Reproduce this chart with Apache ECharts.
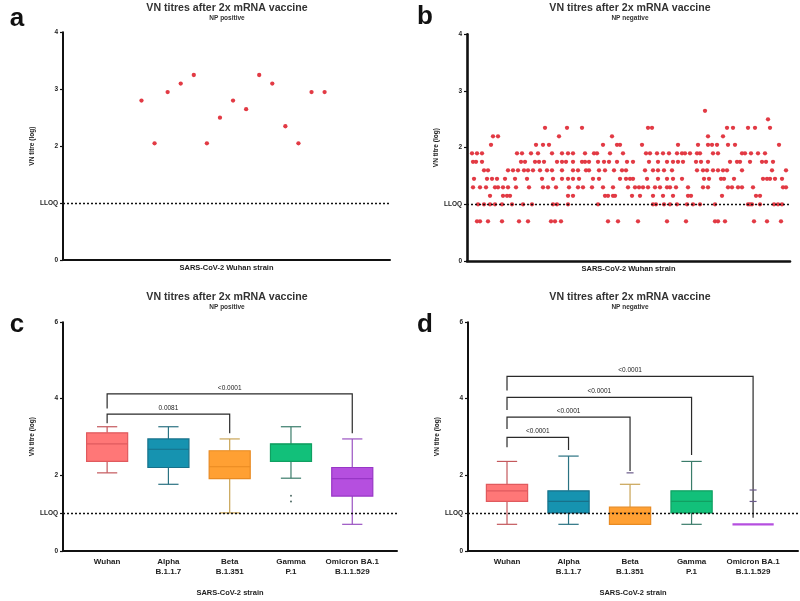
<!DOCTYPE html>
<html><head><meta charset="utf-8">
<script src="https://cdn.jsdelivr.net/npm/echarts@6/dist/echarts.min.js"></script>
<style>html,body{margin:0;padding:0;background:#fff}#c{width:800px;height:601px}</style>
</head><body><div id="c"></div>
<script>
// ---------- DATA ----------
// Panel a: NP positive, Wuhan strain, one value per sample (log VN titre)
const aValues = [2.80, 2.05, 2.95, 3.10, 3.25, 2.05, 2.50, 2.80, 2.65, 3.25, 3.10, 2.35, 2.05, 2.95, 2.95];

// Panel b: NP negative, Wuhan strain; titre levels and sample positions at each level
const bLevels = [2.65, 2.5, 2.35, 2.2, 2.05, 1.9, 1.75, 1.6, 1.45, 1.3, 1.15, 1.0, 0.7];
const bPositions = [
  [238],
  [301],
  [78,100,115,181,185,260,266,281,288,303],
  [26,31,92,145,241,256],
  [24,69,76,82,136,150,153,175,211,231,241,245,250,261,268,312],
  [5,10,15,50,55,64,71,85,95,101,106,118,127,130,143,156,179,183,190,196,202,210,215,218,223,230,233,246,251,275,278,284,291,298],
  [6,9,15,54,58,68,72,77,90,95,99,106,115,118,122,131,137,142,150,160,166,182,191,200,206,211,216,229,234,241,263,270,273,283,295,299,306],
  [17,21,41,46,51,57,61,66,73,80,85,95,106,111,119,122,132,138,147,155,159,178,186,191,197,205,230,236,240,246,251,256,260,275,305,319],
  [7,20,25,30,38,48,60,75,86,95,101,106,112,126,132,153,159,163,166,180,191,200,206,215,237,242,254,257,267,296,300,303,308,315],
  [6,13,19,28,31,36,41,49,62,76,81,89,102,111,116,125,136,146,161,168,172,176,181,188,193,200,203,209,221,236,241,261,265,271,275,286,316,319],
  [23,36,40,43,101,106,138,141,146,148,165,173,186,196,206,221,224,255,289,293],
  [11,17,23,28,35,45,56,65,86,90,101,131,186,189,197,203,210,220,226,233,248,281,283,285,293,307,311,315],
  [10,13,21,35,52,61,84,88,94,141,151,171,200,219,248,251,258,287,300,314]
];

// Panels c/d: strains and box statistics [min, Q1, median, Q3, max]
const strains = ['Wuhan', 'Alpha\nB.1.1.7', 'Beta\nB.1.351', 'Gamma\nP.1', 'Omicron BA.1\nB.1.1.529'];
const cBoxes = [
  [2.05, 2.35, 2.81, 3.10, 3.26],
  [1.75, 2.19, 2.67, 2.94, 3.26],
  [1.00, 1.90, 2.21, 2.63, 2.94],
  [1.91, 2.35, 2.80, 2.81, 3.26],
  [0.70, 1.44, 1.90, 2.19, 2.94]
];
const cOutliers = [[3, 1.45], [3, 1.30]];
const dBoxes = [
  [0.70, 1.30, 1.58, 1.75, 2.35],
  [0.70, 1.00, 1.30, 1.58, 2.49],
  [0.70, 0.70, 1.00, 1.15, 1.75],
  [0.70, 1.00, 1.30, 1.58, 2.35],
  [0.70, 0.70, 0.70, 0.70, 0.70]
];
const dOutliers = [[2, 2.05], [4, 1.30], [4, 1.60]];
// Brackets: [fromIndex, toIndex, barLevel, leftLegEnd, rightLegEnd]
const cBrackets = [[0, 4, 4.12, 3.74, 3.09], [0, 2, 3.59, 3.35, 3.09]];
const cBracketLabels = ['<0.0001', '0.0081'];
const dBrackets = [[0, 4, 4.58, 4.21, 0.87], [0, 3, 4.03, 3.70, 2.52], [0, 2, 3.51, 3.20, 2.10], [0, 1, 2.98, 2.72, 2.65]];
const dBracketLabels = ['<0.0001', '<0.0001', '<0.0001', '<0.0001'];

const yTicksAB = [0, 1, 2, 3, 4];
const yTicksCD = [0, 1, 2, 4, 6];
const boxFill = ['#ff7777', '#1693b0', '#ffa033', '#12c07a', '#b54fdf'];
const boxStroke = ['#e05a5e', '#17718a', '#e88a22', '#10a062', '#9836c6'];
const whiskerColor = ['#c4585c', '#2a7282', '#c9a455', '#3a7c6a', '#9a52c2'];

// ---------- CHART ----------
const FONT = 'Liberation Sans, Arial, sans-serif';
const chart = echarts.init(document.getElementById('c'), null, {renderer: 'canvas'});

function yAxis(gi, ticks, max, lw) {
  return {
    gridIndex: gi, type: 'value', min: 0, max: max,
    name: 'VN titre (log)', nameLocation: 'middle', nameGap: 27,
    nameTextStyle: {fontFamily: FONT, fontSize: 6.5, fontWeight: 'bold', color: '#222'},
    axisLine: {show: true, onZero: false, lineStyle: {color: '#111', width: lw}},
    axisTick: {show: true, customValues: ticks, length: 3, lineStyle: {color: '#111', width: 1.2}},
    axisLabel: {customValues: ticks, margin: 5, fontFamily: FONT, fontSize: 6.5, fontWeight: 'bold', color: '#222',
      formatter: v => (v === 1 ? 'LLOQ' : String(v))},
    splitLine: {show: false}
  };
}
function xAxisPlain(gi, min, max, name, gap, lw) {
  return {
    gridIndex: gi, type: 'value', min: min, max: max,
    name: name, nameLocation: 'middle', nameGap: gap,
    nameTextStyle: {fontFamily: FONT, fontSize: 7.5, fontWeight: 'bold', color: '#222', verticalAlign: 'top'},
    axisLine: {show: true, onZero: false, lineStyle: {color: '#111', width: lw}},
    axisTick: {show: false}, axisLabel: {show: false}, splitLine: {show: false}
  };
}
function xAxisCat(gi, min, max) {
  const ax = xAxisPlain(gi, min, max, 'SARS-CoV-2 strain', 38, 2);
  ax.axisLabel = {show: true, customValues: [0, 1, 2, 3, 4], margin: 6, fontFamily: FONT, fontSize: 8,
    fontWeight: 'bold', color: '#222', lineHeight: 10, formatter: v => strains[Math.round(v)]};
  return ax;
}

function lloq(xi, yi) {
  return {
    type: 'line', xAxisIndex: xi, yAxisIndex: yi, data: [], silent: true,
    markLine: {silent: true, symbol: 'none', label: {show: false},
      lineStyle: {type: [2, 2], color: '#111', width: 1.3}, data: [{yAxis: 1}]}
  };
}

function boxSeries(xi, boxes) {
  return {
    type: 'custom', xAxisIndex: xi, yAxisIndex: xi, z: 3,
    data: boxes.map((b, i) => [i].concat(b)),
    renderItem: function (params, api) {
      const i = api.value(0);
      const lo = api.value(1), q1 = api.value(2), md = api.value(3), q3 = api.value(4), hi = api.value(5);
      const hw = 0.335, cw = 0.165;
      const c = api.coord([i, md]);
      const xl = api.coord([i - hw, q3])[0], xr = api.coord([i + hw, q3])[0];
      const cl = api.coord([i - cw, q3])[0], cr = api.coord([i + cw, q3])[0];
      const yq3 = api.coord([i, q3])[1], yq1 = api.coord([i, q1])[1];
      const ylo = api.coord([i, lo])[1], yhi = api.coord([i, hi])[1], ymd = c[1];
      const wc = whiskerColor[i], sc = boxStroke[i];
      const children = [];
      if (hi > q3) {
        children.push({type: 'line', shape: {x1: c[0], y1: yq3, x2: c[0], y2: yhi}, style: {stroke: wc, lineWidth: 1.2}});
        children.push({type: 'line', shape: {x1: cl, y1: yhi, x2: cr, y2: yhi}, style: {stroke: wc, lineWidth: 1.2}});
      }
      if (lo < q1) {
        children.push({type: 'line', shape: {x1: c[0], y1: yq1, x2: c[0], y2: ylo}, style: {stroke: wc, lineWidth: 1.2}});
        children.push({type: 'line', shape: {x1: cl, y1: ylo, x2: cr, y2: ylo}, style: {stroke: wc, lineWidth: 1.2}});
      }
      if (q3 > q1) {
        children.push({type: 'rect', shape: {x: xl, y: yq3, width: xr - xl, height: yq1 - yq3},
          style: {fill: boxFill[i], stroke: sc, lineWidth: 1.2}});
        children.push({type: 'line', shape: {x1: xl, y1: ymd, x2: xr, y2: ymd}, style: {stroke: sc, lineWidth: 1.2}});
      } else {
        children.push({type: 'line', shape: {x1: xl, y1: ymd, x2: xr, y2: ymd}, style: {stroke: boxFill[i], lineWidth: 2.2}});
      }
      return {type: 'group', children: children};
    }
  };
}

function bracketSeries(xi, brackets, labels) {
  return {
    type: 'custom', xAxisIndex: xi, yAxisIndex: xi, z: 4,
    data: brackets.map((b, k) => b.concat([k])),
    renderItem: function (params, api) {
      const f = api.value(0), t = api.value(1), y = api.value(2), yl = api.value(3), yr = api.value(4), k = api.value(5);
      const p1 = api.coord([f, yl]), p2 = api.coord([f, y]), p3 = api.coord([t, y]), p4 = api.coord([t, yr]);
      const mid = api.coord([(f + t) / 2, y]);
      return {type: 'group', children: [
        {type: 'polyline', shape: {points: [p1, p2, p3, p4]}, style: {stroke: '#2a2a2a', lineWidth: 1.2, fill: null}},
        {type: 'text', x: mid[0], y: mid[1] - 6, style: {text: labels[k], fontFamily: FONT, fontSize: 6.5,
          fill: '#222', align: 'center', verticalAlign: 'middle'}}
      ]};
    }
  };
}

const bData = [];
bLevels.forEach((lv, r) => bPositions[r].forEach(p => bData.push([p, lv])));

function txt(x, y, s, size, weight, color) {
  return {type: 'text', x: x, y: y, style: {text: s, fontFamily: FONT, fontSize: size, fontWeight: weight || 'bold',
    fill: color || '#333', align: 'center', verticalAlign: 'middle'}};
}

const option = {
  animation: false,
  backgroundColor: '#fff',
  grid: [
    {left: 63, top: 32.3, width: 327, height: 227.7},
    {left: 467, top: 34.3, width: 323, height: 226.7},
    {left: 63, top: 322.3, width: 334, height: 228.7},
    {left: 468, top: 322.3, width: 330, height: 228.7}
  ],
  xAxis: [
    xAxisPlain(0, -6, 19, 'SARS-CoV-2 Wuhan strain', 4, 2),
    xAxisPlain(1, 0, 323, 'SARS-CoV-2 Wuhan strain', 4, 2.6),
    xAxisCat(2, -0.72, 4.73),
    xAxisCat(3, -0.634, 4.73)
  ],
  yAxis: [
    yAxis(0, yTicksAB, 4, 2),
    yAxis(1, yTicksAB, 4, 2.6),
    yAxis(2, yTicksCD, 6, 2),
    yAxis(3, yTicksCD, 6, 2)
  ],
  series: [
    lloq(0, 0),
    {type: 'scatter', xAxisIndex: 0, yAxisIndex: 0, symbolSize: 4.3, itemStyle: {color: '#e23a44', opacity: 1},
      data: aValues.map((v, i) => [i, v])},
    lloq(1, 1),
    {type: 'scatter', xAxisIndex: 1, yAxisIndex: 1, symbolSize: 4.3, itemStyle: {color: '#e23a44', opacity: 1}, data: bData},
    lloq(2, 2),
    boxSeries(2, cBoxes),
    {type: 'scatter', xAxisIndex: 2, yAxisIndex: 2, symbolSize: 2, itemStyle: {color: '#55706a', opacity: 1}, data: cOutliers},
    bracketSeries(2, cBrackets, cBracketLabels),
    lloq(3, 3),
    boxSeries(3, dBoxes),
    {type: 'scatter', xAxisIndex: 3, yAxisIndex: 3, symbol: 'rect', symbolSize: [7, 1.2], z: 5,
      itemStyle: {color: '#6a5a8a', opacity: 1}, data: dOutliers},
    bracketSeries(3, dBrackets, dBracketLabels)
  ],
  graphic: [
    txt(227, 8, 'VN titres after 2x mRNA vaccine', 10.6),
    txt(227, 18, 'NP positive', 6.5),
    txt(630, 8, 'VN titres after 2x mRNA vaccine', 10.6),
    txt(630, 18, 'NP negative', 6.5),
    txt(227, 297, 'VN titres after 2x mRNA vaccine', 10.6),
    txt(227, 307, 'NP positive', 6.5),
    txt(630, 297, 'VN titres after 2x mRNA vaccine', 10.6),
    txt(630, 307, 'NP negative', 6.5),
    txt(17, 19, 'a', 26, 'bold', '#111'),
    txt(425, 17, 'b', 26, 'bold', '#111'),
    txt(17, 325, 'c', 26, 'bold', '#111'),
    txt(425, 325, 'd', 26, 'bold', '#111')
  ]
};
chart.setOption(option);
</script></body></html>
